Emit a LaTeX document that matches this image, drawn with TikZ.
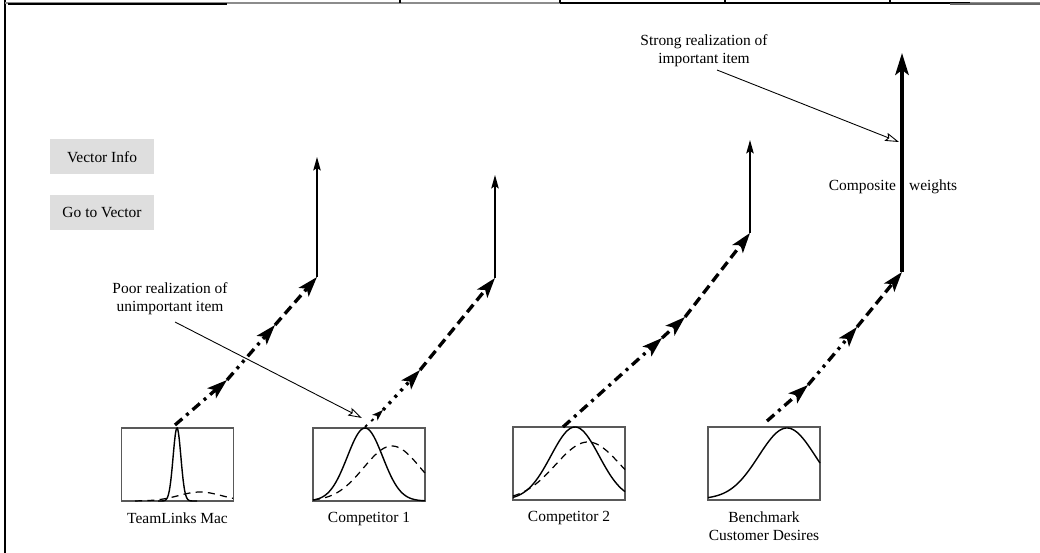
\documentclass[tikz,border=0pt]{standalone}
\usepackage{fontspec}
\setmainfont{Liberation Serif}
\usetikzlibrary{arrows.meta, positioning}
\tikzstyle{plotbox} = [rectangle, draw=black!65, line width=0.6pt, minimum width=2.24cm, minimum height=1.46cm, inner sep=0pt]
\tikzstyle{menu} = [rectangle, fill=black!13, minimum width=2.1cm, minimum height=0.7cm]
\tikzstyle{seg} = [line width=1.9pt, -{Stealth[length=0.4cm,width=0.26cm,inset=0.09cm]}]
\tikzstyle{smallseg} = [line width=1.1pt, -{Stealth[length=0.22cm,width=0.15cm,inset=0.05cm]}]
\tikzstyle{weight} = [line width=0.7pt, -{Stealth[length=0.27cm,width=0.15cm,inset=0.05cm]}]
\tikzstyle{composite} = [line width=1.9pt, -{Stealth[length=0.44cm,width=0.27cm,inset=0.1cm]}]
\tikzstyle{note} = [line width=0.5pt, -{Stealth[open,length=0.28cm,width=0.17cm,inset=0.05cm]}]
\tikzstyle{dashdot} = [dash pattern=on 5.5pt off 3pt on 1.7pt off 3pt]
\tikzstyle{dashdotdot} = [dash pattern=on 5.5pt off 3pt on 1.7pt off 3pt on 1.7pt off 3pt]
\tikzstyle{dotseg} = [dash pattern=on 1.7pt off 3.2pt]
\tikzstyle{dashseg} = [dash pattern=on 5.5pt off 3pt]
\tikzstyle{curve} = [line width=0.8pt]
\tikzstyle{dcurve} = [line width=0.7pt, dash pattern=on 4pt off 3pt]

\begin{document}
\begin{tikzpicture}[x=0.02cm, y=-0.02cm, node distance=0.1cm, font=\fontsize{8.8}{10.2}\selectfont]
  \useasboundingbox (0,0) rectangle (1040,553);

  % window edge
  \draw[line width=0.6pt] (5,0) -- (5,553);
  \draw[black!45, line width=0.8pt] (5,3) -- (1040,3);
  \draw[line width=1.6pt] (8,4) -- (227,4);
  \draw[line width=0.7pt] (560,3) -- (970,3);
  \draw[black!60, line width=1.4pt] (950,4) -- (1040,4);
  \foreach \tx in {400,560,725,890}
    \draw[line width=0.6pt] (\tx,0) -- (\tx,3);

  \node (vecinfo) [menu] at (102,157) {Vector Info};
  \node (gotovec) [menu, below=0.4cm of vecinfo] {Go to Vector};

  % plots
  \node (tlplot) [plotbox] at (177.5,464.5) {};
  \node (c1plot) [plotbox] at (369,464.5) {};
  \node (c2plot) [plotbox] at (569,463.5) {};
  \node (bmplot) [plotbox] at (764,463.5) {};
  \node (tllabel) [below=of tlplot] {TeamLinks Mac};
  \node (c1label) [below=of c1plot] {Competitor 1};
  \node (c2label) [below=of c2plot] {Competitor 2};
  \node (bmlabel) [below=of bmplot, align=center] {Benchmark\\Customer Desires};

  \draw[curve] plot[domain=158:197, samples=60] (\x, {501-73*exp(-(((\x-177)/5.5)^2))});
  \draw[dcurve] plot[domain=135:233, samples=40] (\x, {501-9*exp(-(((\x-200)/30)^2))});
  \draw[curve] plot[domain=313:425, samples=60] (\x, {501-73*exp(-(((\x-365)/25)^2))});
  \draw[dcurve] plot[domain=313:425, samples=50] (\x, {501-55*exp(-(((\x-392)/40)^2))});
  \draw[curve] plot[domain=513:625, samples=60] (\x, {500-73*exp(-(((\x-575)/34)^2))});
  \draw[dcurve] plot[domain=513:625, samples=50] (\x, {500-58*exp(-(((\x-588)/46)^2))});
  \draw[curve] plot[domain=708:820, samples=60] (\x, {499-71*exp(-(((\x-787)/40)^2))});

  % vector chains
  \coordinate (tl0) at (175,425);
  \coordinate (tl1) at (227,380);
  \coordinate (tl2) at (275,325);
  \coordinate (tl3) at (317,277);
  \coordinate (tl4) at (317,157);
  \coordinate (c1a0) at (365,427);
  \coordinate (c1a1) at (383,410);
  \coordinate (c1a2) at (420,370);
  \coordinate (c1a3) at (495,278);
  \coordinate (c1a4) at (495,175);
  \coordinate (c2a0) at (563,427);
  \coordinate (c2a1) at (662,338);
  \coordinate (c2a2) at (685,317);
  \coordinate (c2a3) at (750,233);
  \coordinate (c2a4) at (750,140);
  \coordinate (bm0) at (767,421);
  \coordinate (bm1) at (808,385);
  \coordinate (bm2) at (857,327);
  \coordinate (bm3) at (902,272);
  \coordinate (bm4) at (902,53);

  \draw[seg, dashdot] (tl0) -- (tl1);
  \draw[seg, dashdotdot] (tl1) -- (tl2);
  \draw[seg, dashseg] (tl2) -- (tl3);
  \draw[weight] (tl3) -- (tl4);

  \draw[smallseg, dotseg] (c1a0) -- (c1a1);
  \draw[seg, dotseg] (c1a1) -- (c1a2);
  \draw[seg, dashseg] (c1a2) -- (c1a3);
  \draw[weight] (c1a3) -- (c1a4);

  \draw[seg, dashdot] (c2a0) -- (c2a1);
  \draw[seg, dashdot] (c2a1) -- (c2a2);
  \draw[seg, dashseg] (c2a2) -- (c2a3);
  \draw[weight] (c2a3) -- (c2a4);

  \draw[seg, dashdot] (bm0) -- (bm1);
  \draw[seg, dashdotdot] (bm1) -- (bm2);
  \draw[seg, dashseg] (bm2) -- (bm3);
  \draw[composite] (bm3) -- (bm4);

  \node (complabel) [anchor=east, inner sep=1pt] at (898,187) {Composite};
  \node (wtlabel) [anchor=west, inner sep=1pt] at (907,187) {weights};

  % annotations
  \node (poor) [align=center] at (170,299) {Poor realization of\\unimportant item};
  \node (strong) [align=center] at (704,51) {Strong realization of\\important item};
  \coordinate (poortail) at (175,322);
  \coordinate (poortip) at (362,418);
  \coordinate (strongtail) at (717,70);
  \coordinate (strongtip) at (899,142);
  \draw[note] (poortail) -- (poortip);
  \draw[note] (strongtail) -- (strongtip);
\end{tikzpicture}
\end{document}
